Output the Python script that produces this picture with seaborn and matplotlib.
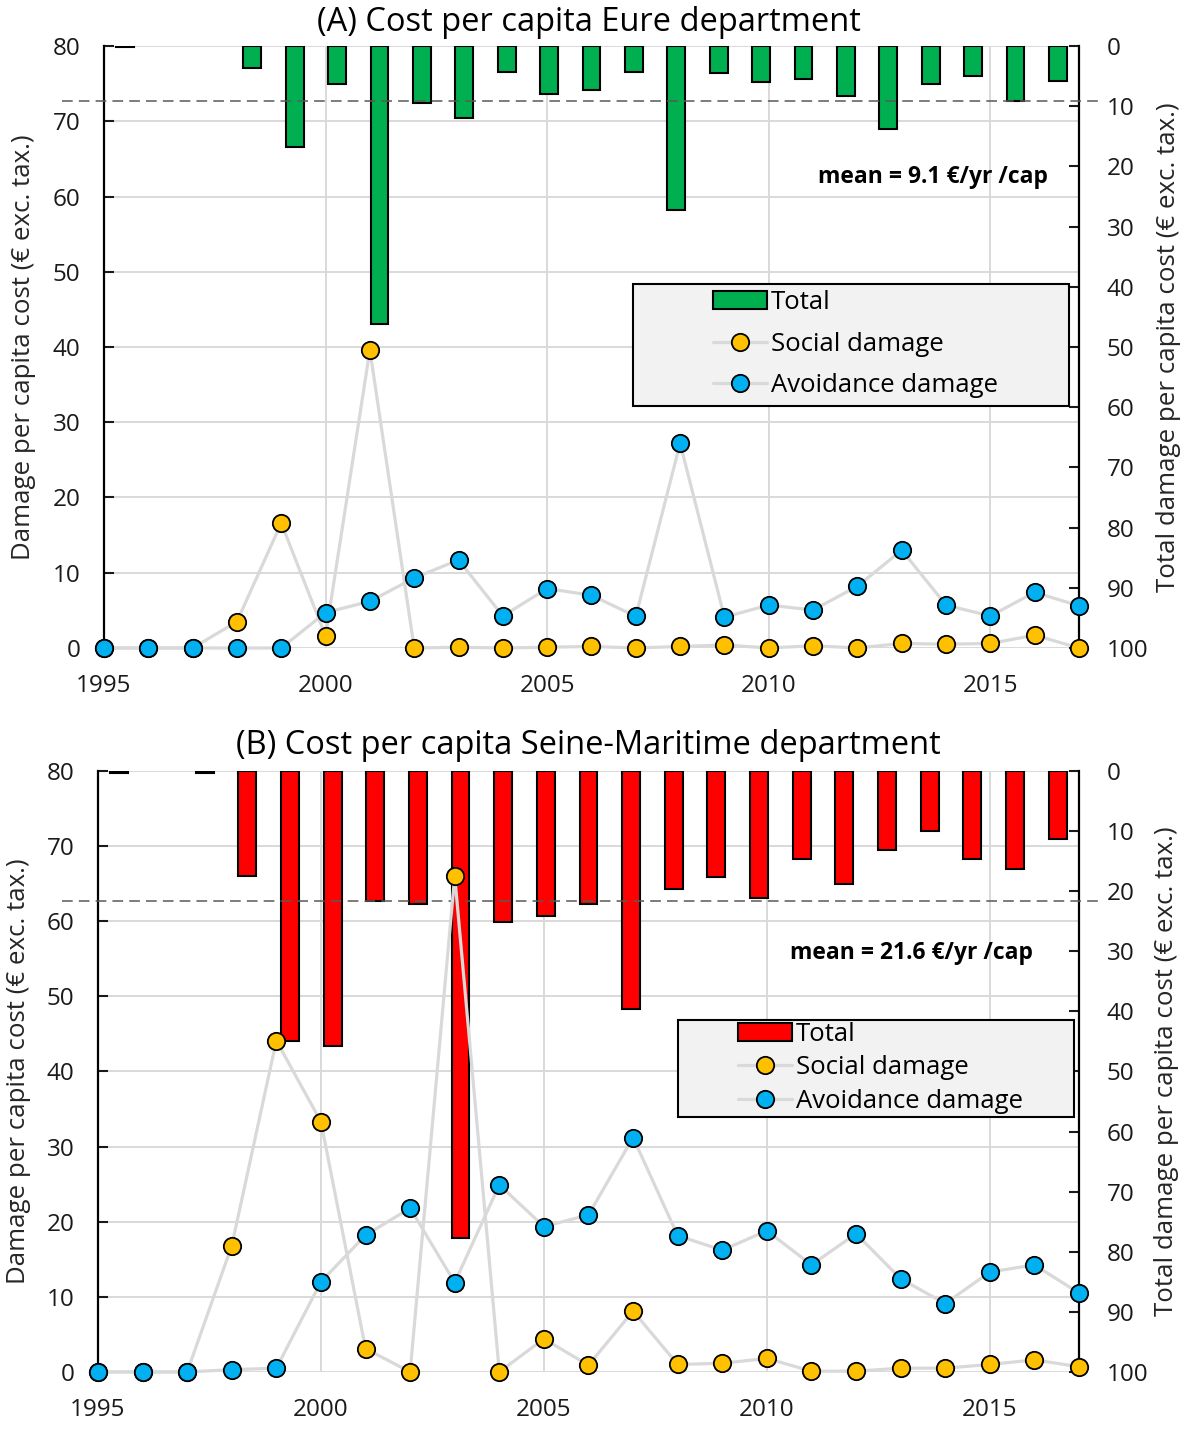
import numpy as np
import pandas as pd
import matplotlib
matplotlib.use("Agg")
import matplotlib.pyplot as plt
import seaborn as sns
from matplotlib.patches import Patch, Rectangle
from matplotlib.lines import Line2D
from matplotlib.ticker import MultipleLocator


years = list(range(1995, 2018))

# (A) Eure department
eure_total = [0.2, np.nan, np.nan, 3.6, 16.8, 6.3, 46.2, 9.5, 11.9, 4.3, 8.0, 7.3,
              4.3, 27.2, 4.4, 5.9, 5.5, 8.3, 13.8, 6.3, 4.9, 9.1, 5.8]
eure_social = [0, 0, 0, 3.5, 16.6, 1.6, 39.6, 0, 0.1, 0, 0.1, 0.2,
               0, 0.2, 0.4, 0, 0.3, 0, 0.6, 0.5, 0.6, 1.7, 0]
eure_avoid = [0, 0, 0, 0, 0, 4.7, 6.2, 9.3, 11.7, 4.25, 7.9, 7.0,
              4.2, 27.2, 4.1, 5.7, 5.05, 8.2, 13.0, 5.7, 4.25, 7.4, 5.6]
eure_mean = 9.1

# (B) Seine-Maritime department
sm_total = [0.3, np.nan, 0.3, 17.5, 45.0, 45.8, 21.7, 22.1, 77.7, 25.2, 24.1, 22.1,
            39.6, 19.6, 17.7, 21.1, 14.7, 18.8, 13.1, 10.0, 14.7, 16.4, 11.3]
sm_social = [0, 0, 0, 16.8, 44.1, 33.3, 3.1, 0, 66.0, 0, 4.4, 0.9,
             8.1, 1.0, 1.15, 1.8, 0.1, 0.1, 0.5, 0.5, 1.0, 1.6, 0.7]
sm_avoid = [0, 0, 0, 0.3, 0.5, 12.0, 18.2, 21.8, 11.9, 24.9, 19.35, 20.9,
            31.2, 18.15, 16.2, 18.8, 14.25, 18.4, 12.4, 9.1, 13.3, 14.25, 10.5]
sm_mean = 21.6

YELLOW = '#ffc000'
BLUE = '#00b0f0'
LINEGRAY = '#d9d9d9'

sns.set_theme(style='white')
plt.rcParams['font.family'] = ['Open Sans', 'DejaVu Sans']
plt.rcParams['text.color'] = 'black'

fig = plt.figure(figsize=(11.92, 14.39), dpi=100)


def panel(pos, title, title_y, total, social, avoid, mean, bar_color,
          mean_xy, dash_x, box, anchor, lspace, lab_x):
    ax = fig.add_axes(pos, zorder=1)
    axb = fig.add_axes(pos, zorder=2, facecolor='none')
    axt = fig.add_axes(pos, zorder=3, sharex=ax, sharey=ax, facecolor='none')

    # left axis / grid
    ax.set_xlim(1995, 2017)
    ax.set_ylim(0, 80)
    ax.set_yticks(range(0, 81, 10))
    ax.xaxis.set_major_locator(MultipleLocator(5))
    ax.grid(True, color=LINEGRAY, lw=1.4)
    for s in ['top', 'bottom', 'right']:
        ax.spines[s].set_visible(False)
    ax.spines['left'].set_color('black')
    ax.spines['left'].set_linewidth(1.6)
    ax.tick_params(axis='y', direction='in', length=7, width=1.5, pad=17,
                   labelsize=17.5, left=True, colors='#1a1a1a')
    ax.tick_params(axis='x', length=0, pad=19, labelsize=17.5, colors='#1a1a1a')
    ax.set_ylabel('Damage per capita cost (€ exc. tax.)', fontsize=18.6)
    ax.yaxis.set_label_coords(lab_x[0], 0.5)

    # bars, right axis (inverted)
    df = pd.DataFrame({'year': [str(y) for y in years], 'total': total})
    sns.barplot(data=df, x='year', y='total', order=[str(y) for y in years],
                ax=axb, color=bar_color, saturation=1, width=0.42,
                edgecolor='black', linewidth=1.5, errorbar=None)
    axb.set_ylim(100, 0)
    axb.set_xlim(-0.5, len(years) - 0.5)
    axb.set_xticks([])
    axb.set_xlabel('')
    axb.yaxis.tick_right()
    axb.yaxis.set_label_position('right')
    axb.set_yticks(range(0, 101, 10))
    for s in ['top', 'bottom', 'left']:
        axb.spines[s].set_visible(False)
    axb.spines['right'].set_color('black')
    axb.spines['right'].set_linewidth(1.6)
    axb.tick_params(axis='y', direction='in', length=7, width=1.5, pad=20,
                    labelsize=17.5, right=True, left=False, colors='#1a1a1a')
    axb.set_ylabel('Total damage per capita cost (€ exc. tax.)', fontsize=18.6)
    axb.yaxis.set_label_coords(lab_x[1], 0.5)
    axb.axhline(mean, xmin=dash_x[0], xmax=dash_x[1], color='#595959', lw=1.1,
                ls=(0, (7, 4)), clip_on=False, zorder=5)

    # lines with markers
    for vals, fc in [(social, YELLOW), (avoid, BLUE)]:
        sns.lineplot(x=years, y=vals, ax=axt, color=LINEGRAY, linewidth=2.3,
                     marker='o', markersize=12.5, markerfacecolor=fc,
                     markeredgecolor='black', markeredgewidth=1.3, clip_on=False)
    axt.axis('off')
    ax.set_xlim(1995, 2017)
    ax.set_ylim(0, 80)

    axt.text(mean_xy[0], mean_xy[1], f'mean = {mean} €/yr /cap',
             transform=axt.transAxes, ha='right', va='center',
             fontsize=16.5, fontweight='bold')

    axt.add_patch(Rectangle((box[0], box[1]), box[2], box[3],
                            transform=axt.transAxes, facecolor='#f2f2f2',
                            edgecolor='black', lw=1.5, clip_on=False, zorder=6))
    handles = [
        Patch(facecolor=bar_color, edgecolor='black', linewidth=1.5, label='Total'),
        Line2D([], [], color=LINEGRAY, lw=2.3, marker='o', markersize=12.5,
               mfc=YELLOW, mec='black', mew=1.3, label='Social damage'),
        Line2D([], [], color=LINEGRAY, lw=2.3, marker='o', markersize=12.5,
               mfc=BLUE, mec='black', mew=1.3, label='Avoidance damage'),
    ]
    leg = axt.legend(handles=handles, loc='center left', bbox_to_anchor=anchor,
                     frameon=False, fontsize=18.5, handlelength=2.1,
                     handletextpad=0.15, borderpad=0, borderaxespad=0,
                     labelspacing=lspace)
    leg.set_zorder(7)

    fig.text(0.494, title_y, title, ha='center', va='center', fontsize=23.5)


panel([0.0872, 0.5497, 0.818, 0.4183], '(A) Cost per capita Eure department', 0.9847,
      eure_total, eure_social, eure_avoid, eure_mean, '#00b050',
      (0.968, 0.782), (-0.043, 1.021), (0.5426, 0.402, 0.4472, 0.2027),
      (0.6246, 0.505), 0.63, (-0.070, 1.079))

panel([0.0822, 0.0466, 0.823, 0.4177], '(B) Cost per capita Seine-Maritime department', 0.4816,
      sm_total, sm_social, sm_avoid, sm_mean, '#ff0000',
      (0.953, 0.697), (-0.037, 1.021), (0.5912, 0.4243, 0.4037, 0.1614),
      (0.6524, 0.5058), 0.32, (-0.068, 1.076))

fig.savefig('out.png', dpi=100)
